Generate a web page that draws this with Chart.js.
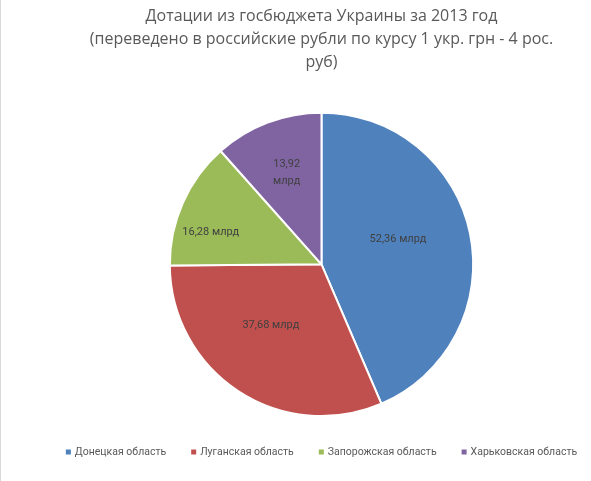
<!DOCTYPE html>
<html>
<head>
<meta charset="utf-8">
<script src="https://cdn.jsdelivr.net/npm/chart.js@4/dist/chart.umd.min.js"></script>
<style>
  html, body { margin: 0; padding: 0; background: #fff; }
  #wrap { position: relative; width: 591px; height: 481px; border-left: 1px solid #d9d9d9; box-sizing: border-box; }
  canvas { display: block; }
</style>
</head>
<body>
<div id="wrap"><canvas id="c" width="590" height="481"></canvas></div>
<script>
const titleLines = [
  'Дотации из госбюджета Украины за 2013 год',
  '(переведено в российские рубли по курсу 1 укр. грн - 4 рос.',
  'руб)'
];
const regions = ['Донецкая область', 'Луганская область', 'Запорожская область', 'Харьковская область'];
const subsidies = [52.36, 37.68, 16.28, 13.92];
const valueLabels = [['52,36 млрд'], ['37,68 млрд'], ['16,28 млрд'], ['13,92', 'млрд']];
const colors = ['#4F81BD', '#C0504D', '#9BBB59', '#8064A2'];

// label placement (style only): fraction of radius, and fraction of the slice's sweep
const labelRadius = [0.53, 0.52, 0.76, 0.645];
const labelSweep = [0.46, 0.56, 0.34, 0.5];

const dataLabelPlugin = {
  id: 'dataLabels',
  afterDatasetsDraw(chart) {
    const ctx = chart.ctx;
    const meta = chart.getDatasetMeta(0);
    ctx.save();
    ctx.font = '11px Roboto, sans-serif';
    ctx.fillStyle = '#404040';
    ctx.textAlign = 'center';
    ctx.textBaseline = 'middle';
    meta.data.forEach((arc, i) => {
      const p = arc.getProps(['x', 'y', 'startAngle', 'endAngle', 'outerRadius'], true);
      const a = p.startAngle + (p.endAngle - p.startAngle) * labelSweep[i];
      const r = p.outerRadius * labelRadius[i];
      const x = p.x + Math.cos(a) * r;
      const y = p.y + Math.sin(a) * r;
      const lines = valueLabels[i];
      const lh = 17;
      lines.forEach((t, k) => {
        ctx.fillText(t, x, y + (k - (lines.length - 1) / 2) * lh);
      });
    });
    ctx.restore();
  }
};

// single-row legend centred under the pie, built from the chart's labels/colours
const rowLegendPlugin = {
  id: 'rowLegend',
  afterDraw(chart) {
    const ctx = chart.ctx;
    const labels = chart.data.labels;
    const bg = chart.data.datasets[0].backgroundColor;
    const box = 5, textGap = 4, itemGap = 25;
    ctx.save();
    ctx.font = '10.5px Roboto, sans-serif';
    ctx.textBaseline = 'middle';
    ctx.textAlign = 'left';
    const widths = labels.map(l => box + textGap + ctx.measureText(l).width);
    const total = widths.reduce((a, b) => a + b, 0) + itemGap * (labels.length - 1);
    const cx = (chart.chartArea.left + chart.chartArea.right) / 2;
    let x = cx - total / 2;
    const y = chart.chartArea.bottom + 35;
    labels.forEach((l, i) => {
      ctx.fillStyle = bg[i];
      ctx.fillRect(x, y - box / 2, box, box);
      ctx.fillStyle = '#595959';
      ctx.fillText(l, x + box + textGap, y);
      x += widths[i] + itemGap;
    });
    ctx.restore();
  }
};

new Chart(document.getElementById('c'), {
  type: 'pie',
  data: {
    labels: regions,
    datasets: [{
      data: subsidies,
      backgroundColor: colors,
      borderColor: '#ffffff',
      borderWidth: 2,
      hoverOffset: 0
    }]
  },
  options: {
    responsive: false,
    animation: false,
    layout: { padding: { left: 51, right: 0, top: 0, bottom: 64 } },
    plugins: {
      tooltip: { enabled: false },
      legend: { display: false },
      title: {
        display: true,
        text: titleLines,
        color: '#595959',
        font: { family: '"Open Sans", sans-serif', size: 16, weight: 'normal', lineHeight: 1.43 },
        padding: { top: 5, bottom: 38 }
      }
    }
  },
  plugins: [dataLabelPlugin, rowLegendPlugin]
});
</script>
</body>
</html>
